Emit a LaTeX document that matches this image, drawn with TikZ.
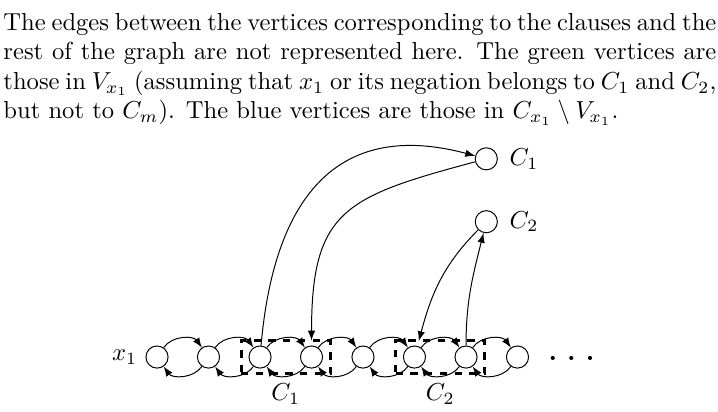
\documentclass[tikz,border=0pt]{standalone}
\usetikzlibrary{positioning,fit}

\begin{document}
\begin{tikzpicture}[vertex/.style={circle, draw, minimum size=9pt, inner sep=0pt},
		chainarc/.style={-latex, bend left=55},
		clausebox/.style={draw, dashed, very thick, inner xsep=3pt, inner ysep=2pt}]
	\useasboundingbox (0,0) rectangle (10.266,5.877);
	\node[anchor=north west, inner sep=0pt, text width=290pt, align=justify] (caption) at (0.043,5.692) {The edges between the vertices corresponding to the clauses and the\linebreak
		rest of the graph are not represented here.  The green vertices are\linebreak
		those in $V_{x_1}$ (assuming that $x_1$ or its negation belongs to $C_1$ and $C_2$,\linebreak
		but not to $C_m$). The blue vertices are those in $C_{x_1}\setminus V_{x_1}$.};

	\node[vertex] (v1) at (2.245,0.772) {}; \node[left=4.5pt] (lx1) at (v1) {$x_1$};
	\node[vertex] (v2) at (2.981,0.772) {};
	\node[vertex] (v3) at (3.718,0.772) {};
	\node[vertex] (v4) at (4.454,0.772) {};
	\node[vertex] (v5) at (5.190,0.772) {};
	\node[vertex] (v6) at (5.926,0.772) {};
	\node[vertex] (v7) at (6.663,0.772) {};
	\node[vertex] (v8) at (7.399,0.772) {};
	\node (dots) at (8.171,0.758) {\LARGE$\ldots$};

	\node[vertex] (C1) at (6.953,3.606) {}; \node[right=6pt] (lC1) at (C1) {$C_1$};
	\node[vertex] (C2) at (6.953,2.707) {}; \node[right=6pt] (lC2) at (C2) {$C_2$};

	\draw (v1) edge[chainarc] (v2) (v2) edge[chainarc] (v1)
		(v2) edge[chainarc] (v3) (v3) edge[chainarc] (v2)
		(v3) edge[chainarc] (v4) (v4) edge[chainarc] (v3)
		(v4) edge[chainarc] (v5) (v5) edge[chainarc] (v4)
		(v5) edge[chainarc] (v6) (v6) edge[chainarc] (v5)
		(v6) edge[chainarc] (v7) (v7) edge[chainarc] (v6)
		(v7) edge[chainarc] (v8) (v8) edge[chainarc] (v7);

	\draw[-latex] (v3) to[out=85, in=165, looseness=1.3] (C1);
	\draw[-latex, shorten >=2pt] (C1) to[out=195, in=90, looseness=1.4] (v4);
	\draw[-latex, shorten >=2pt] (C2) to[out=225, in=75] (v6);
	\draw[-latex] (v7) to[out=90, in=-104] (C2);

	\node[clausebox, fit=(v3)(v4)] (box1) {}; \node[below] (lbox1) at (box1.south) {$C_1$};
	\node[clausebox, fit=(v6)(v7)] (box2) {}; \node[below] (lbox2) at (box2.south) {$C_2$};
\end{tikzpicture}
\end{document}
